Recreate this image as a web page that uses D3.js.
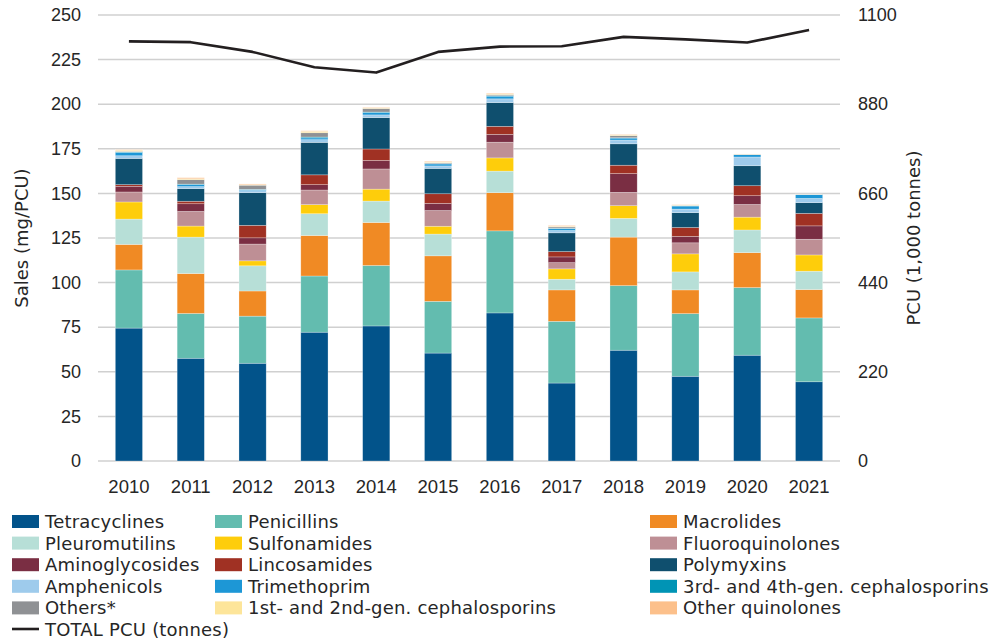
<!DOCTYPE html>
<html>
<head>
<meta charset="utf-8">
<script src="https://cdn.jsdelivr.net/npm/d3@7"></script>
<style>
  body { margin: 0; background: #fff; }
  svg { font-family: "DejaVu Sans", Verdana, sans-serif; }
  .tick text { fill: #262626; }
</style>
</head>
<body>
<div id="chart"></div>
<script>
// Sales of antimicrobials (mg/PCU) by class, and total PCU

var years = ["2010", "2011", "2012", "2013", "2014", "2015", "2016", "2017", "2018", "2019", "2020", "2021"];

var tetracyclines    = [74.5, 57.6, 54.8, 72.2, 75.7, 60.5, 83.0, 43.7, 62.1, 47.5, 59.3, 44.4];
var penicillins      = [32.6, 25.1, 26.4, 31.5, 33.9, 29.0, 46.0, 34.6, 36.2, 35.1, 37.9, 35.8];
var macrolides       = [14.3, 22.4, 14.1, 22.7, 24.1, 25.5, 21.4, 17.6, 27.2, 13.3, 19.6, 15.9];
var pleuromutilins   = [14.2, 20.4, 14.1, 12.2, 12.0, 12.2, 12.1, 6.0, 10.5, 10.1, 12.7, 10.3];
var sulfonamides     = [9.6, 6.2, 2.8, 5.1, 6.7, 4.4, 7.4, 5.8, 7.1, 10.1, 7.2, 9.1];
var fluoroquinolones = [5.6, 8.2, 9.4, 8.2, 11.3, 8.8, 8.8, 3.5, 7.5, 6.2, 7.1, 8.8];
var aminoglycosides  = [3.2, 4.3, 3.5, 3.0, 4.8, 4.0, 4.4, 3.2, 10.5, 3.6, 4.9, 7.5];
var lincosamides     = [0.9, 1.4, 7.0, 5.5, 6.4, 5.4, 4.5, 3.0, 4.7, 5.0, 5.6, 7.0];
var polymyxins       = [14.7, 7.1, 18.3, 18.2, 17.6, 14.2, 13.3, 10.5, 12.0, 8.3, 11.2, 6.0];
var amphenicols      = [1.5, 1.1, 1.2, 1.5, 1.5, 1.4, 2.1, 1.3, 2.1, 2.0, 4.9, 2.4];
var trimethoprim     = [1.8, 1.1, 0.5, 1.0, 1.3, 1.1, 1.5, 1.0, 1.1, 1.7, 1.3, 2.1];
var ceph34           = [0.3, 0.3, 0.2, 0.5, 0.3, 0.2, 0.3, 0.3, 0.2, 0.2, 0.1, 0.1];
var others           = [0.4, 2.5, 2.3, 2.4, 2.0, 0.5, 0.6, 0.7, 1.2, 0.2, 0.1, 0.1];
var ceph12           = [0.6, 0.5, 0.3, 0.8, 0.4, 0.4, 0.4, 0.4, 0.4, 0.2, 0.1, 0.05];
var otherQuinolones  = [0.3, 0.6, 0.4, 0.3, 0.3, 0.4, 0.4, 0.4, 0.3, 0.2, 0.1, 0.05];

// total PCU, 1,000 tonnes
var totalPCU = [1035, 1033, 1009, 971, 958, 1009, 1022, 1023, 1046, 1040, 1032, 1063];

var leftTicks = [0, 25, 50, 75, 100, 125, 150, 175, 200, 225, 250];
var rightTicks = [0, 220, 440, 660, 880, 1100];

// series in stacking order (same as legend order)
var series = [
    { name: "Tetracyclines", values: tetracyclines, color: "#02538a" },
    { name: "Penicillins", values: penicillins, color: "#63bcaf" },
    { name: "Macrolides", values: macrolides, color: "#f08a24" },
    { name: "Pleuromutilins", values: pleuromutilins, color: "#b7dfd7" },
    { name: "Sulfonamides", values: sulfonamides, color: "#fecd0b" },
    { name: "Fluoroquinolones", values: fluoroquinolones, color: "#be8f95" },
    { name: "Aminoglycosides", values: aminoglycosides, color: "#7a2e43" },
    { name: "Lincosamides", values: lincosamides, color: "#a03123" },
    { name: "Polymyxins", values: polymyxins, color: "#0f4f6e" },
    { name: "Amphenicols", values: amphenicols, color: "#9ecbec" },
    { name: "Trimethoprim", values: trimethoprim, color: "#1d97d6" },
    { name: "3rd- and 4th-gen. cephalosporins", values: ceph34, color: "#0094b5" },
    { name: "Others*", values: others, color: "#8f9194" },
    { name: "1st- and 2nd-gen. cephalosporins", values: ceph12, color: "#fde59a" },
    { name: "Other quinolones", values: otherQuinolones, color: "#fcc08b" }
];

// build rows for d3.stack
var rows = years.map(function(y, i) {
    var r = { year: y };
    series.forEach(function(s) { r[s.name] = s.values[i]; });
    return r;
});

/* SVG setup */
var svgWidth = 1000;
var svgHeight = 639;
var chartMarg = { top: 15, bottom: 178, left: 98, right: 160 };
var chartWidth = svgWidth - chartMarg.left - chartMarg.right;
var chartHeight = svgHeight - chartMarg.top - chartMarg.bottom;

var svg = d3.select("#chart")
    .append("svg")
    .attr("width", svgWidth)
    .attr("height", svgHeight);

var chartGroup = svg.append("g")
    .attr("transform", `translate(${chartMarg.left}, ${chartMarg.top})`);

// scales
var xScale = d3.scaleBand().domain(years).range([0, chartWidth])
    .paddingInner(0.56).paddingOuter(0.28);
var yScale = d3.scaleLinear().domain([0, 250]).range([chartHeight, 0]);
var y2Scale = d3.scaleLinear().domain([0, 1100]).range([chartHeight, 0]);

// gridlines
chartGroup.selectAll(".grid")
    .data(leftTicks)
    .enter()
    .append("line")
    .attr("x1", 0)
    .attr("x2", chartWidth)
    .attr("y1", d => yScale(d))
    .attr("y2", d => yScale(d))
    .attr("stroke", "#d0d0d0")
    .attr("stroke-width", 1.5);

// left axis
var leftAxis = d3.axisLeft(yScale).tickValues(leftTicks).tickSize(0).tickPadding(17);
chartGroup.append("g").call(leftAxis)
    .call(g => g.select(".domain").remove())
    .selectAll("text").attr("font-size", 18);

// right axis
var rightAxis = d3.axisRight(y2Scale).tickValues(rightTicks)
    .tickFormat(d3.format("d")).tickSize(0).tickPadding(18);
chartGroup.append("g")
    .attr("transform", `translate(${chartWidth}, 0)`)
    .call(rightAxis)
    .call(g => g.select(".domain").remove())
    .selectAll("text").attr("font-size", 18);

// bottom axis
var bottomAxis = d3.axisBottom(xScale).tickSize(0).tickPadding(19);
chartGroup.append("g")
    .attr("transform", `translate(0, ${chartHeight})`)
    .call(bottomAxis)
    .call(g => g.select(".domain").remove())
    .selectAll("text").attr("font-size", 18.5);

// axis titles
svg.append("text")
    .attr("transform", `translate(28, ${chartMarg.top + chartHeight / 2}) rotate(-90)`)
    .attr("text-anchor", "middle")
    .attr("font-size", 18)
    .attr("fill", "#262626")
    .text("Sales (mg/PCU)");

svg.append("text")
    .attr("transform", `translate(920, ${chartMarg.top + chartHeight / 2}) rotate(-90)`)
    .attr("text-anchor", "middle")
    .attr("font-size", 18)
    .attr("fill", "#262626")
    .text("PCU (1,000 tonnes)");

// stacked bars
var stack = d3.stack().keys(series.map(s => s.name));
var stacked = stack(rows);

chartGroup.selectAll(".layer")
    .data(stacked)
    .enter()
    .append("g")
    .attr("class", "layer")
    .attr("fill", (d, i) => series[i].color)
    .selectAll("rect")
    .data(d => d)
    .enter()
    .append("rect")
    .attr("x", d => xScale(d.data.year))
    .attr("width", xScale.bandwidth())
    .attr("y", d => yScale(d[1]))
    .attr("height", d => yScale(d[0]) - yScale(d[1]))
    .attr("stroke", "#ffffff")
    .attr("stroke-opacity", 0.45)
    .attr("stroke-width", 0.6);

// total PCU line
var line = d3.line()
    .x((d, i) => xScale(years[i]) + xScale.bandwidth() / 2)
    .y(d => y2Scale(d));

chartGroup.append("path")
    .datum(totalPCU)
    .attr("d", line)
    .attr("fill", "none")
    .attr("stroke", "#231f20")
    .attr("stroke-width", 2.6)
    .attr("stroke-linejoin", "round");

/* LEGEND */
var legendCols = [12, 215, 650];
var legendTop = 514;
var rowH = 21.6;

var legend = svg.append("g").attr("class", "legend");
series.forEach(function(s, i) {
    var col = i % 3;
    var row = Math.floor(i / 3);
    var g = legend.append("g")
        .attr("transform", `translate(${legendCols[col]}, ${legendTop + row * rowH})`);
    g.append("rect")
        .attr("width", 27)
        .attr("height", 13)
        .attr("y", 1)
        .attr("fill", s.color);
    g.append("text")
        .attr("x", 33)
        .attr("y", 14)
        .attr("font-size", 18)
        .attr("letter-spacing", 0.2)
        .attr("fill", "#262626")
        .text(s.name);
});

var lg = legend.append("g")
    .attr("transform", `translate(${legendCols[0]}, ${legendTop + 5 * rowH})`);
lg.append("line")
    .attr("x1", 0).attr("x2", 27)
    .attr("y1", 7).attr("y2", 7)
    .attr("stroke", "#231f20")
    .attr("stroke-width", 2.6);
lg.append("text")
    .attr("x", 33)
    .attr("y", 14)
    .attr("font-size", 18)
    .attr("letter-spacing", 0.2)
    .attr("fill", "#262626")
    .text("TOTAL PCU (tonnes)");
</script>
</body>
</html>
